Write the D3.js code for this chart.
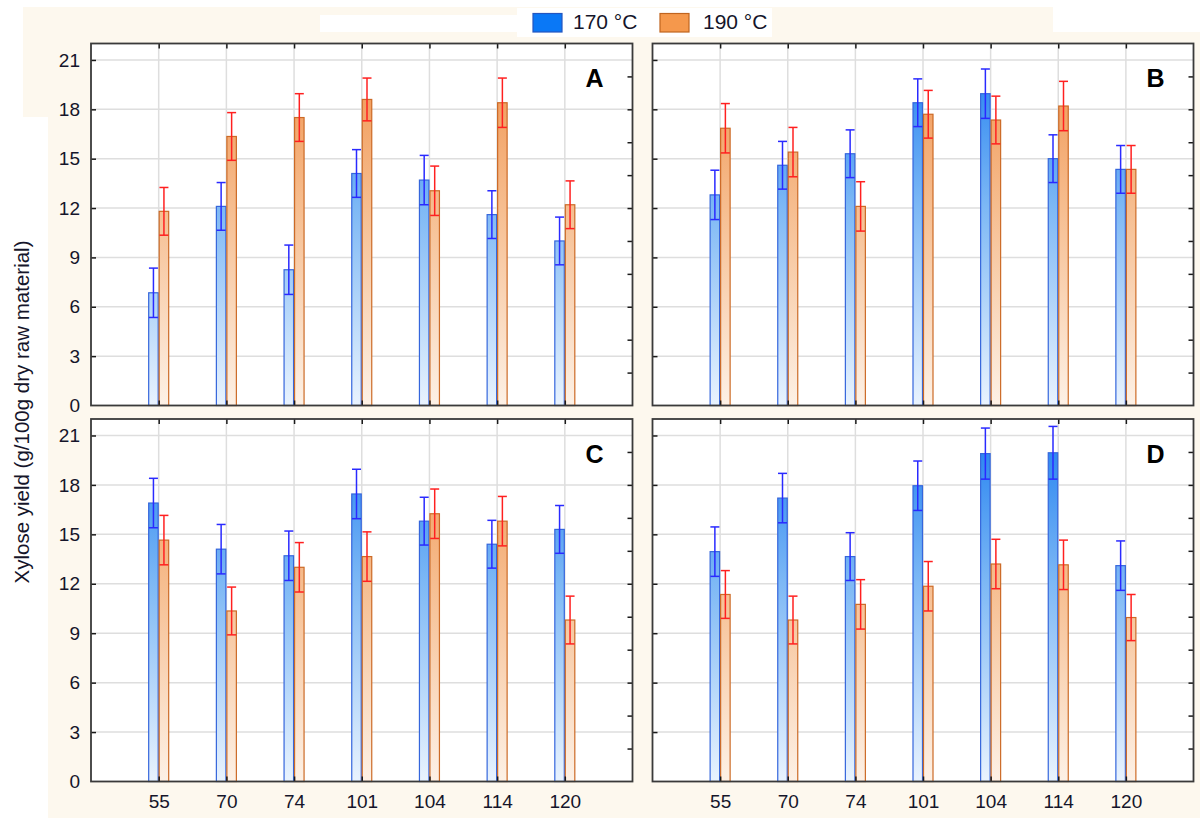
<!DOCTYPE html>
<html>
<head>
<meta charset="utf-8">
<script src="https://cdn.jsdelivr.net/npm/d3@7"></script>
<style>
  html, body { margin: 0; padding: 0; background: #ffffff; }
  svg { display: block; font-family: "Liberation Sans", Arial, sans-serif; }
</style>
</head>
<body>
<svg id="chart" width="1200" height="818"></svg>
<script>
// Pretreatment conditions on the x axis
const categories = ["55", "70", "74", "101", "104", "114", "120"];
const seriesNames = ["170 °C", "190 °C"];

// Xylose yield, panel A
const a170 = [6.85, 12.1, 8.25, 14.1, 13.7, 11.6, 10.0];
const a190 = [11.8, 16.35, 17.5, 18.6, 13.05, 18.4, 12.2];
const a170err = [1.5, 1.45, 1.5, 1.45, 1.5, 1.45, 1.45];
const a190err = [1.45, 1.45, 1.45, 1.3, 1.5, 1.5, 1.45];

// Panel B
const b170 = [12.8, 14.6, 15.3, 18.4, 18.95, 15.0, 14.35];
const b190 = [16.85, 15.4, 12.1, 17.7, 17.35, 18.2, 14.35];
const b170err = [1.5, 1.45, 1.45, 1.45, 1.5, 1.45, 1.45];
const b190err = [1.5, 1.5, 1.5, 1.45, 1.45, 1.5, 1.45];

// Panel C
const c170 = [16.9, 14.1, 13.7, 17.45, 15.8, 14.4, 15.3];
const c190 = [14.65, 10.35, 13.0, 13.65, 16.25, 15.8, 9.8];
const c170err = [1.5, 1.5, 1.5, 1.5, 1.45, 1.45, 1.45];
const c190err = [1.5, 1.45, 1.5, 1.5, 1.5, 1.5, 1.45];

// Panel D
const d170 = [13.95, 17.2, 13.65, 17.95, 19.9, 19.95, 13.1];
const d190 = [11.35, 9.8, 10.75, 11.85, 13.2, 13.15, 9.95];
const d170err = [1.5, 1.5, 1.45, 1.5, 1.55, 1.6, 1.5];
const d190err = [1.45, 1.45, 1.5, 1.5, 1.5, 1.5, 1.4];

// Axis ticks
const yLabelTicks = [0, 3, 6, 9, 12, 15, 18, 21];
const yRightTicks = [2, 4, 6, 8, 10, 12, 14, 16, 18, 20];
const yDomain = [0, 22];

const yTitle = "Xylose yield (g/100g dry raw material)";

const svg = d3.select("#chart");

// Canvas background blocks
const bg = svg.append("g");
bg.append("rect").attr("x", 23).attr("y", 7).attr("width", 1030).attr("height", 110).attr("fill", "#fdf8ee");
bg.append("rect").attr("x", 48).attr("y", 32).attr("width", 1152).attr("height", 786).attr("fill", "#fdf8ee");
bg.append("rect").attr("x", 320).attr("y", 15).attr("width", 197).attr("height", 17).attr("fill", "#ffffff");
bg.append("rect").attr("x", 517).attr("y", 8).attr("width", 255).attr("height", 29).attr("fill", "#ffffff");

// Gradients for the bars
const defs = svg.append("defs");

const panels = [
  { key: "A", x0: 91,  x1: 632.5,  y0: 43.5, y1: 405.5, v: [a170, a190], e: [a170err, a190err], yLabels: true,  xLabels: false },
  { key: "B", x0: 652.5, x1: 1193.5, y0: 43.5, y1: 405.5, v: [b170, b190], e: [b170err, b190err], yLabels: false, xLabels: false },
  { key: "C", x0: 91,  x1: 632.5,  y0: 419,  y1: 781.5, v: [c170, c190], e: [c170err, c190err], yLabels: true,  xLabels: true },
  { key: "D", x0: 652.5, x1: 1193.5, y0: 419,  y1: 781.5, v: [d170, d190], e: [d170err, d190err], yLabels: false, xLabels: true }
];

const barStyle = [
  { stops: [["0%", "#1b7cf0"], ["45%", "#7db8f5"], ["100%", "#e9f3fe"]], stroke: "#3566dc", err: "#2a2aff" },
  { stops: [["0%", "#f0914a"], ["45%", "#f6bd8f"], ["100%", "#fdf1e6"]], stroke: "#cc6a26", err: "#ff2020" }
];

const barW = 10.5;
const capHalf = 4.5;

panels.forEach(p => {
  const x = d3.scalePoint().domain(categories).range([p.x0, p.x1]).padding(1);
  const y = d3.scaleLinear().domain(yDomain).range([p.y1, p.y0]);

  // gradient per series, fixed to the panel's value axis
  barStyle.forEach((s, si) => {
    const g = defs.append("linearGradient")
      .attr("id", `grad-${p.key}-${si}`)
      .attr("gradientUnits", "userSpaceOnUse")
      .attr("x1", 0).attr("x2", 0)
      .attr("y1", y(22)).attr("y2", y(0));
    s.stops.forEach(([o, c]) => g.append("stop").attr("offset", o).attr("stop-color", c));
  });

  const g = svg.append("g");

  // plot area
  g.append("rect")
    .attr("x", p.x0).attr("y", p.y0)
    .attr("width", p.x1 - p.x0).attr("height", p.y1 - p.y0)
    .attr("fill", "#ffffff");

  // grid
  g.append("g").selectAll("line.h")
    .data(yLabelTicks.filter(t => t > 0))
    .join("line")
    .attr("x1", p.x0).attr("x2", p.x1)
    .attr("y1", d => y(d)).attr("y2", d => y(d))
    .attr("stroke", "#dedede").attr("stroke-width", 1.5);
  g.append("g").selectAll("line.v")
    .data(categories)
    .join("line")
    .attr("x1", d => x(d)).attr("x2", d => x(d))
    .attr("y1", p.y0).attr("y2", p.y1)
    .attr("stroke", "#dedede").attr("stroke-width", 1.5);

  // bars
  [0, 1].forEach(si => {
    const vals = p.v[si];
    const off = si === 0 ? -barW : 0;
    g.append("g").selectAll("rect")
      .data(categories)
      .join("rect")
      .attr("x", (d) => x(d) + off + 0.5)
      .attr("y", (d, i) => y(vals[i]))
      .attr("width", barW - 1)
      .attr("height", (d, i) => y(0) - y(vals[i]))
      .attr("fill", `url(#grad-${p.key}-${si})`)
      .attr("stroke", barStyle[si].stroke)
      .attr("stroke-width", 1.2);
  });

  // error bars
  [0, 1].forEach(si => {
    const vals = p.v[si], errs = p.e[si];
    const cx = d => x(d) + (si === 0 ? -barW / 2 : barW / 2);
    const eg = g.append("g").attr("stroke", barStyle[si].err).attr("stroke-width", 1.5).attr("fill", "none");
    categories.forEach((d, i) => {
      const hi = y(vals[i] + errs[i]), lo = y(vals[i] - errs[i]);
      eg.append("line").attr("x1", cx(d)).attr("x2", cx(d)).attr("y1", hi).attr("y2", lo);
      eg.append("line").attr("x1", cx(d) - capHalf).attr("x2", cx(d) + capHalf).attr("y1", hi).attr("y2", hi);
      eg.append("line").attr("x1", cx(d) - capHalf).attr("x2", cx(d) + capHalf).attr("y1", lo).attr("y2", lo);
    });
  });

  // inward ticks on all four sides
  const tickLen = 5;
  const axL = d3.axisRight(y).tickValues(yLabelTicks.filter(t => t > 0)).tickSize(tickLen).tickFormat("");
  const axR = d3.axisLeft(y).tickValues(yRightTicks).tickSize(tickLen).tickFormat("");
  const axT = d3.axisBottom(x).tickSize(tickLen).tickFormat("");
  const axB = d3.axisTop(x).tickSize(tickLen).tickFormat("");
  const tk = g.append("g");
  tk.append("g").attr("transform", `translate(${p.x0},0)`).call(axL);
  tk.append("g").attr("transform", `translate(${p.x1},0)`).call(axR);
  tk.append("g").attr("transform", `translate(0,${p.y0})`).call(axT);
  tk.append("g").attr("transform", `translate(0,${p.y1})`).call(axB);
  tk.selectAll(".domain").remove();
  tk.selectAll(".tick line").attr("stroke", "#1a1a1a").attr("stroke-width", 1.5);

  // frame
  g.append("rect")
    .attr("x", p.x0).attr("y", p.y0)
    .attr("width", p.x1 - p.x0).attr("height", p.y1 - p.y0)
    .attr("fill", "none").attr("stroke", "#3a3a3a").attr("stroke-width", 1.8);

  // value labels on the left
  if (p.yLabels) {
    const ya = d3.axisLeft(y).tickValues(yLabelTicks).tickSize(0).tickPadding(11);
    const yl = g.append("g").attr("transform", `translate(${p.x0},0)`).call(ya);
    yl.select(".domain").remove();
    yl.selectAll("text")
      .attr("font-family", "Liberation Sans, Arial, sans-serif")
      .attr("font-size", 19).attr("fill", "#15152a");
  }

  // category labels at the bottom
  if (p.xLabels) {
    const xa = d3.axisBottom(x).tickSize(0).tickPadding(13);
    const xl = g.append("g").attr("transform", `translate(0,${p.y1})`).call(xa);
    xl.select(".domain").remove();
    xl.selectAll("text")
      .attr("font-family", "Liberation Sans, Arial, sans-serif")
      .attr("font-size", 19).attr("fill", "#15152a");
  }

  // panel letter
  g.append("text")
    .attr("x", p.x1 - 29).attr("y", p.y0 + 43.5)
    .attr("text-anchor", "end")
    .attr("font-size", 25).attr("font-weight", "bold")
    .attr("fill", "#000")
    .text(p.key);
});

// Shared y title
svg.append("text")
  .attr("transform", "translate(28.5,412) rotate(-90)")
  .attr("text-anchor", "middle")
  .attr("font-size", 20.5)
  .attr("fill", "#15152a")
  .text(yTitle);

// Legend
const legend = svg.append("g");
const legendItems = [
  { x: 533, fill: "#0a78f6", stroke: "#2456c0", tx: 573 },
  { x: 660, fill: "#f5984c", stroke: "#c0641f", tx: 703 }
];
legendItems.forEach((it, i) => {
  legend.append("rect")
    .attr("x", it.x).attr("y", 13.5).attr("width", 29).attr("height", 18.5)
    .attr("fill", it.fill).attr("stroke", it.stroke).attr("stroke-width", 1.2);
  legend.append("text")
    .attr("x", it.tx).attr("y", 28.5)
    .attr("font-size", 21).attr("fill", "#15152a")
    .text(seriesNames[i]);
});
</script>
</body>
</html>
